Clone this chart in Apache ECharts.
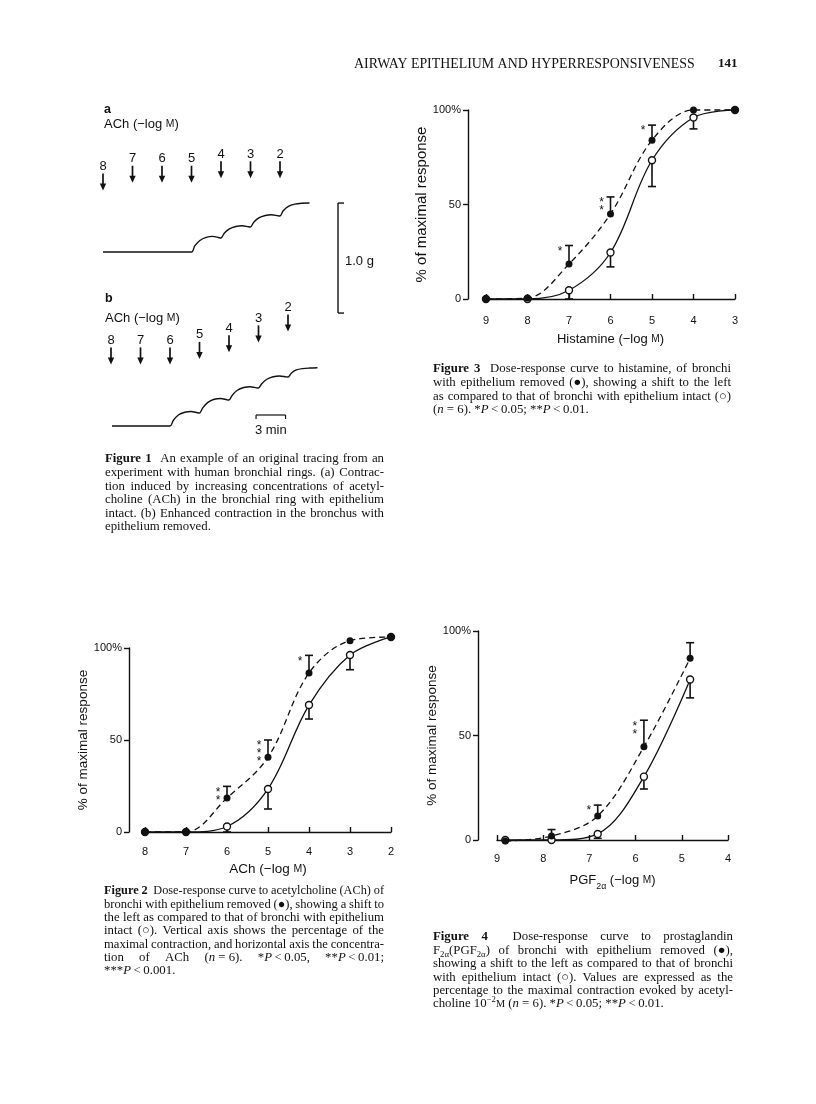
<!DOCTYPE html>
<html><head><meta charset="utf-8">
<script src="https://cdn.jsdelivr.net/npm/echarts@6/dist/echarts.min.js"></script>
<style>html,body{margin:0;padding:0;background:#fff}#c{width:816px;height:1104px}</style>
</head><body><div id="c"></div><script>
// ================= DATA =================
// Figure 1: tracings (time in min, tension in g)
const fig1Doses = ['8','7','6','5','4','3','2'];
const fig1aDoseTimes = [0,3,6,9,12,15,18];
const fig1aArrowTips = [0.56,0.63,0.63,0.63,0.67,0.67,0.67];
const fig1bDoseTimes = [0,3,6,9,12,15,18];
const fig1bArrowTips = [0.56,0.56,0.56,0.61,0.67,0.76,0.86];
const fig1aTrace = [[0,0],[9,0],[9.33,0.055],[9.85,0.105],[10.5,0.133],[11.15,0.142],[11.8,0.13],[12,0.127],
  [12.33,0.17],[12.85,0.21],[13.5,0.232],[14.15,0.239],[14.8,0.229],[15,0.227],
  [15.33,0.27],[15.85,0.31],[16.5,0.332],[17.15,0.339],[17.8,0.329],[18,0.327],
  [18.33,0.375],[18.85,0.415],[19.5,0.435],[20.2,0.443],[21,0.445]];
const fig1bTrace = [[0.1,0],[6,0],[6.33,0.05],[6.85,0.1],[7.5,0.125],[8.15,0.132],[8.8,0.12],[9,0.118],
  [9.33,0.165],[9.85,0.215],[10.5,0.243],[11.15,0.25],[11.8,0.238],[12,0.236],
  [12.33,0.28],[12.85,0.325],[13.5,0.35],[14.15,0.357],[14.8,0.347],[15,0.345],
  [15.33,0.385],[15.85,0.425],[16.5,0.448],[17.15,0.455],[17.8,0.447],[18,0.445],
  [18.33,0.48],[18.85,0.51],[19.5,0.522],[20.2,0.527],[21,0.53]];
const fig1ScaleTension = 1.0; // g
const fig1ScaleTime = 3;      // min

// Response axis tick labels
const responseTicks = ['0','50','100%'];

// Figure 3: histamine (-log M)
const fig3Dose = [9,8,7,6,5,4,3];
const fig3Removed = [0,0.5,18.5,45,84,100,100];
const fig3RemovedSem = [0,0,9.8,9,8,0,0];
const fig3Intact = [0,0,4.6,24.6,73.4,96,100];
const fig3IntactSem = [0,0,4.6,7.6,13.9,6,0];
const fig3Sig = ['','','*','**','*','',''];

// Figure 2: acetylcholine (-log M)
const fig2Dose = [8,7,6,5,4,3,2];
const fig2Removed = [0,0,18.5,40.6,86.4,104,106];
const fig2RemovedSem = [0,0,6.3,9.4,9.6,0,0];
const fig2Intact = [0,0,3,23.4,69,96.2,106];
const fig2IntactSem = [0,0,3,10.9,7.6,8,0];
const fig2Sig = ['','','**','***','*','',''];

// Figure 4: PGF2alpha (-log M)
const fig4Dose = [8.82,7.82,6.82,5.82,4.82];
const fig4Removed = [-0.5,1.9,11.5,44.6,87];
const fig4RemovedSem = [0,3.1,5.2,12.7,7.4];
const fig4Intact = [0,0,2.9,30.3,76.8];
const fig4IntactSem = [0,0,2.1,5.9,8.8];
const fig4Sig = ['','','*','**',''];

// ================= STYLE / HELPERS =================
const INK = '#111';
const SANS = "'Liberation Sans', Arial, Helvetica, sans-serif";
const SERIF = "'Liberation Serif', 'Times New Roman', serif";
const mctx = document.createElement('canvas').getContext('2d');

function parseWord(w){
  const segs=[]; const re=/\{(b|i|sub|sup|sc):([^}]*)\}|([^{]+)/g; let m;
  while((m=re.exec(w))){ if(m[3]!==undefined) segs.push({k:'r',t:m[3]}); else segs.push({k:m[1],t:m[2]}); }
  return segs;
}
function segFont(k,size){
  const s = (k==='sub'||k==='sup') ? size*0.68 : (k==='sc' ? size*0.8 : size);
  return {size:s, weight:k==='b'?'bold':'normal', style:k==='i'?'italic':'normal'};
}
function cssFont(f,fam){ return f.style+' '+f.weight+' '+f.size.toFixed(2)+'px '+fam; }
function measureWords(words, sz, fam){
  return words.map(w => parseWord(w).map(sg => { const f=segFont(sg.k,sz); mctx.font=cssFont(f,fam); return {sg,f,w:mctx.measureText(sg.t).width}; }));
}
function sumW(m){ return m.reduce((a,ws)=>a+ws.reduce((b,s)=>b+s.w,0),0); }
function placeLine(els, m, x, y, gap, sz, fam){
  m.forEach(ws => { ws.forEach(s => {
    const dy = s.sg.k==='sub' ? sz*0.3 : (s.sg.k==='sup' ? -sz*0.32 : 0);
    els.push({type:'text', x:x, y:y+dy, silent:true, style:{text:s.sg.t, font:cssFont(s.f,fam), fill:INK, align:'left', verticalAlign:'middle'}});
    x += s.w; }); x += gap; });
}
function paragraph(lines, x0, x1, y0, lh, size, fam){
  const els=[];
  lines.forEach((ln, li) => {
    const words = ln.t.split(' ');
    let sz = size; let m = measureWords(words, sz, fam); let total = sumW(m);
    const gaps = words.length-1; let gap;
    if (ln.j && gaps>0){
      gap = (x1-x0-total)/gaps;
      if (gap < sz*0.22){ sz = sz*(x1-x0-gaps*sz*0.22)/total; m = measureWords(words, sz, fam); total = sumW(m); gap=(x1-x0-total)/gaps; }
    } else { mctx.font = cssFont(segFont('r',sz),fam); gap = mctx.measureText(' ').width; }
    placeLine(els, m, x0, y0+li*lh, gap, sz, fam);
  });
  return els;
}
function textLine(str, x, y, size, fam, align){
  const els=[]; const words=str.split(' '); const m=measureWords(words,size,fam);
  mctx.font = cssFont(segFont('r',size),fam); const gap=mctx.measureText(' ').width;
  const total = sumW(m)+gap*(words.length-1);
  const xs = align==='center' ? x-total/2 : (align==='right' ? x-total : x);
  placeLine(els, m, xs, y, gap, size, fam); return els;
}
function fitLine(str, x0, x1, y, size, fam){
  const words=str.split(' '); let m=measureWords(words,size,fam);
  mctx.font=cssFont(segFont('r',size),fam); let gap=mctx.measureText(' ').width;
  const total=sumW(m)+gap*(words.length-1); const sz=size*(x1-x0)/total;
  m=measureWords(words,sz,fam); mctx.font=cssFont(segFont('r',sz),fam); gap=mctx.measureText(' ').width;
  const els=[]; placeLine(els,m,x0,y,gap,sz,fam); return els;
}

// ================= CHART =================
const grids = [
  {left:103, top:142, width:206.5, height:110},
  {left:111, top:316, width:206.5, height:110},
  {left:486, top:110, width:249, height:189},
  {left:145, top:648, width:246, height:184},
  {left:497, top:631, width:231, height:209}
].map(g => Object.assign(g, {containLabel:false, outerBoundsMode:'none'}));

const axisLine = {show:true, lineStyle:{color:INK, width:1.4}};
function doseAxes(gi, c){
  const x = {gridIndex:gi, type:'value', min:c.xmin, max:c.xmax, interval:1, inverse:true, offset:c.xOff,
    name:c.xName, nameLocation:'middle', nameGap:c.xNameGap,
    nameTextStyle:{fontFamily:SANS, fontSize:c.xNameSize, color:INK,
      rich:{sc:{fontFamily:SANS, fontSize:c.xNameSize*0.78, color:INK},
            sub:{fontFamily:SANS, fontSize:c.xNameSize*0.68, color:INK, verticalAlign:'bottom', lineHeight:22}}},
    axisLine, axisTick:{show:true, inside:true, length:5, lineStyle:{color:INK, width:1.4}},
    axisLabel:{margin:c.xLabMargin, fontFamily:SANS, fontSize:11, color:INK}, splitLine:{show:false}};
  const y = {gridIndex:gi, type:'value', min:0, max:100, interval:50, offset:c.yOff,
    name:'% of maximal response', nameLocation:'middle', nameGap:c.yNameGap,
    nameTextStyle:{fontFamily:SANS, fontSize:c.yNameSize, color:INK},
    axisLine, axisTick:{show:true, length:5, lineStyle:{color:INK, width:1.4}},
    axisLabel:{margin:7, fontFamily:SANS, fontSize:11, color:INK, formatter:v => responseTicks[Math.round(v/50)]},
    splitLine:{show:false}};
  return [x,y];
}
const hiddenX = gi => ({gridIndex:gi, type:'value', min:0, max:21, show:false});
const hiddenY = gi => ({gridIndex:gi, type:'value', min:0, max:1, show:false});

const a3 = doseAxes(2, {xmin:3,xmax:9,xOff:14,xName:'Histamine (−log {sc|M})',xNameGap:20,xNameSize:13,xLabMargin:2,yOff:18,yNameGap:34,yNameSize:15});
const a2 = doseAxes(3, {xmin:2,xmax:8,xOff:12,xName:'ACh (−log {sc|M})',xNameGap:18,xNameSize:13.5,xLabMargin:2,yOff:16,yNameGap:33,yNameSize:13.5});
const a4 = doseAxes(4, {xmin:4,xmax:9,xOff:10,xName:'PGF{sub|2α} (−log {sc|M})',xNameGap:19,xNameSize:13,xLabMargin:3,yOff:19,yNameGap:38,yNameSize:13.5});

function errRender(dir){
  return function(params, api){
    const x=api.value(0), y=api.value(1), e=api.value(2);
    const p0=api.coord([x,y]), p1=api.coord([x,y+dir*e]);
    return {type:'group', children:[
      {type:'line', shape:{x1:p0[0],y1:p0[1],x2:p1[0],y2:p1[1]}, style:{stroke:INK, lineWidth:1.6}},
      {type:'line', shape:{x1:p1[0]-4,y1:p1[1],x2:p1[0]+4,y2:p1[1]}, style:{stroke:INK, lineWidth:1.6}}
    ]};
  };
}
function doseSeries(ax, dose, rem, remSem, intc, intSem, sig){
  const base = {xAxisIndex:ax, yAxisIndex:ax, clip:false, silent:true, animation:false};
  const errData = (v,s) => dose.map((d,i)=>[d,v[i],s[i]]).filter(r=>r[2]>0);
  return [
    Object.assign({type:'custom', z:1, data:errData(rem,remSem), renderItem:errRender(1)}, base),
    Object.assign({type:'custom', z:1, data:errData(intc,intSem), renderItem:errRender(-1)}, base),
    Object.assign({type:'line', z:3, data:dose.map((d,i)=>[d,intc[i]]), smooth:0.35, symbol:'circle', symbolSize:7, showAllSymbol:true,
      lineStyle:{color:INK, width:1.3}, itemStyle:{color:'#fff', borderColor:INK, borderWidth:1.4}}, base),
    Object.assign({type:'line', z:4, data:dose.map((d,i)=>[d,rem[i]]), smooth:0.35, symbol:'circle', symbolSize:7, showAllSymbol:true,
      lineStyle:{color:INK, width:1.3, type:[6,4]}, itemStyle:{color:INK, borderWidth:0}}, base),
    Object.assign({type:'custom', z:5, data:dose.map((d,i)=>[d,rem[i]+remSem[i]]), renderItem:function(params, api){
      const s = sig[params.dataIndex]; if(!s) return;
      const p = api.coord([api.value(0), api.value(1)]);
      return {type:'text', x:p[0]-9, y:p[1]+2, style:{text:s.split('').join('\n'), fontSize:12, fontFamily:SANS, fill:INK, align:'center', verticalAlign:'top', lineHeight:8}};
    }}, base)
  ];
}
function arrowSeries(ax, times, tips){
  return {type:'custom', xAxisIndex:ax, yAxisIndex:ax, clip:false, silent:true, z:5,
    data: times.map((t,i)=>[t,tips[i]]),
    renderItem(params, api){
      const p = api.coord([api.value(0), api.value(1)]); const x=p[0], y=p[1];
      return {type:'group', children:[
        {type:'line', shape:{x1:x,y1:y-17,x2:x,y2:y-5}, style:{stroke:INK, lineWidth:1.7}},
        {type:'polygon', shape:{points:[[x-3.2,y-7],[x+3.2,y-7],[x,y]]}, style:{fill:INK}},
        {type:'text', x:x, y:y-24, style:{text:fig1Doses[params.dataIndex], fontSize:13, fontFamily:SANS, fill:INK, align:'center', verticalAlign:'middle'}}
      ]};
    }};
}
const traceStyle = {type:'line', symbol:'none', smooth:0.3, clip:false, silent:true, lineStyle:{color:INK, width:1.4}};

const series = [
  Object.assign({xAxisIndex:0, yAxisIndex:0, data:fig1aTrace}, traceStyle),
  Object.assign({xAxisIndex:1, yAxisIndex:1, data:fig1bTrace}, traceStyle),
  arrowSeries(0, fig1aDoseTimes, fig1aArrowTips),
  arrowSeries(1, fig1bDoseTimes, fig1bArrowTips),
  {type:'custom', xAxisIndex:0, yAxisIndex:0, clip:false, silent:true, data:[[fig1ScaleTension]], renderItem(params, api){
    const top = api.coord([23.9, 0.445]); const bot = api.coord([23.9, 0.445-api.value(0)]);
    return {type:'group', children:[
      {type:'line', shape:{x1:top[0],y1:top[1],x2:bot[0],y2:bot[1]}, style:{stroke:INK, lineWidth:1.4}},
      {type:'line', shape:{x1:top[0],y1:top[1],x2:top[0]+6,y2:top[1]}, style:{stroke:INK, lineWidth:1.4}},
      {type:'line', shape:{x1:bot[0],y1:bot[1],x2:bot[0]+6,y2:bot[1]}, style:{stroke:INK, lineWidth:1.4}},
      {type:'text', x:top[0]+7, y:(top[1]+bot[1])/2+3, style:{text:api.value(0).toFixed(1)+' g', fontSize:13, fontFamily:SANS, fill:INK, align:'left', verticalAlign:'middle'}}
    ]};
  }},
  {type:'custom', xAxisIndex:1, yAxisIndex:1, clip:false, silent:true, data:[[fig1ScaleTime]], renderItem(params, api){
    const l = api.coord([14.75, 0.1]); const r = api.coord([14.75+api.value(0), 0.1]);
    return {type:'group', children:[
      {type:'line', shape:{x1:l[0],y1:l[1],x2:r[0],y2:r[1]}, style:{stroke:INK, lineWidth:1.2}},
      {type:'line', shape:{x1:l[0],y1:l[1],x2:l[0],y2:l[1]+4}, style:{stroke:INK, lineWidth:1.2}},
      {type:'line', shape:{x1:r[0],y1:r[1],x2:r[0],y2:r[1]+4}, style:{stroke:INK, lineWidth:1.2}},
      {type:'text', x:(l[0]+r[0])/2, y:l[1]+15, style:{text:api.value(0)+' min', fontSize:13, fontFamily:SANS, fill:INK, align:'center', verticalAlign:'middle'}}
    ]};
  }},
  ...doseSeries(2, fig3Dose, fig3Removed, fig3RemovedSem, fig3Intact, fig3IntactSem, fig3Sig),
  ...doseSeries(3, fig2Dose, fig2Removed, fig2RemovedSem, fig2Intact, fig2IntactSem, fig2Sig),
  ...doseSeries(4, fig4Dose, fig4Removed, fig4RemovedSem, fig4Intact, fig4IntactSem, fig4Sig)
];

// ================= TEXT =================
const fig1Caption = [
  {t:'{b:Figure} {b:1}  An example of an original tracing from an', j:true},
  {t:'experiment with human bronchial rings. (a) Contrac-', j:true},
  {t:'tion induced by increasing concentrations of acetyl-', j:true},
  {t:'choline (ACh) in the bronchial ring with epithelium', j:true},
  {t:'intact. (b) Enhanced contraction in the bronchus with', j:true},
  {t:'epithelium removed.', j:false}
];
const fig3Caption = [
  {t:'{b:Figure} {b:3}  Dose-response curve to histamine, of bronchi', j:true},
  {t:'with epithelium removed (●), showing a shift to the left', j:true},
  {t:'as compared to that of bronchi with epithelium intact (○)', j:true},
  {t:'({i:n} = 6). *{i:P}\u2009<\u20090.05; **{i:P}\u2009<\u20090.01.', j:false}
];
const fig2Caption = [
  {t:'{b:Figure} {b:2}  Dose-response curve to acetylcholine (ACh) of', j:true},
  {t:'bronchi with epithelium removed (●), showing a shift to', j:true},
  {t:'the left as compared to that of bronchi with epithelium', j:true},
  {t:'intact (○). Vertical axis shows the percentage of the', j:true},
  {t:'maximal contraction, and horizontal axis the concentra-', j:true},
  {t:'tion of ACh ({i:n}\u00a0=\u00a06). *{i:P}\u2009<\u20090.05, **{i:P}\u2009<\u20090.01;', j:true},
  {t:'***{i:P}\u2009<\u20090.001.', j:false}
];
const fig4Caption = [
  {t:'{b:Figure} {b:4}  Dose-response curve to prostaglandin', j:true},
  {t:'F{sub:2α}(PGF{sub:2α}) of bronchi with epithelium removed (●),', j:true},
  {t:'showing a shift to the left as compared to that of bronchi', j:true},
  {t:'with epithelium intact (○). Values are expressed as the', j:true},
  {t:'percentage to the maximal contraction evoked by acetyl-', j:true},
  {t:'choline 10{sup:−2}{sc:M} ({i:n} = 6). *{i:P}\u2009<\u20090.05; **{i:P}\u2009<\u20090.01.', j:false}
];

const graphicEls = [].concat(
  fitLine('AIRWAY EPITHELIUM AND HYPERRESPONSIVENESS', 354, 695, 64, 12.5, SERIF),
  textLine('{b:141}', 718, 64, 13, SERIF, 'left'),
  textLine('{b:a}', 104, 110, 12.5, SANS, 'left'),
  textLine('ACh (−log {sc:M})', 104, 124, 13, SANS, 'left'),
  textLine('{b:b}', 105, 299, 12.5, SANS, 'left'),
  textLine('ACh (−log {sc:M})', 105, 318, 13, SANS, 'left'),
  paragraph(fig1Caption, 105, 384, 459, 13.6, 12.8, SERIF),
  paragraph(fig3Caption, 433, 731, 369, 13.7, 12.8, SERIF),
  paragraph(fig2Caption, 104, 384, 891, 13.35, 12.8, SERIF),
  paragraph(fig4Caption, 433, 733, 937, 13.4, 12.8, SERIF)
);

const chart = echarts.init(document.getElementById('c'), null, {renderer:'canvas'});
chart.setOption({
  animation:false,
  backgroundColor:'#fff',
  textStyle:{fontFamily:SANS, color:INK},
  grid: grids,
  xAxis: [hiddenX(0), hiddenX(1), a3[0], a2[0], a4[0]],
  yAxis: [hiddenY(0), hiddenY(1), a3[1], a2[1], a4[1]],
  series: series,
  graphic: {elements: graphicEls}
});
</script></body></html>
